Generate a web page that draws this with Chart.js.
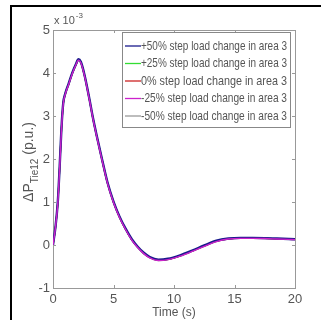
<!DOCTYPE html>
<html><head><meta charset="utf-8">
<script src="https://cdn.jsdelivr.net/npm/chart.js@4/dist/chart.umd.min.js"></script>
<style>
html,body{margin:0;padding:0;background:#fff;overflow:hidden}
#wrap{position:relative;width:321px;height:320px;overflow:hidden}
#frame{position:absolute;left:10px;top:5px;width:400px;height:400px;border-top:2px solid #000;border-left:2px solid #000;box-sizing:border-box}
canvas{position:absolute;left:0;top:0}
</style></head><body>
<div id="wrap"><div id="frame"></div><canvas id="c" width="321" height="320"></canvas></div>
<script>
// Time (s)
const time = [0,0.2,0.4,0.55,0.7,0.85,1.0,1.3,1.6,1.9,2.1,2.3,2.6,3.0,3.3,3.6,4.0,4.5,5.0,5.5,6.0,6.5,7.0,7.5,8.0,8.7,9.5,10.5,11.5,12.5,13.5,14.5,15.5,16.5,17.5,18.5,19.5,20];
// ΔP_Tie12 (x 10^-3 p.u.) for each step load change in area 3
const plus50  = [0,0.41,1.02,1.82,2.72,3.31,3.51,3.76,4.01,4.21,4.32,4.26,3.96,3.41,2.96,2.56,2.06,1.46,1.01,0.66,0.38,0.14,-0.04,-0.18,-0.28,-0.34,-0.32,-0.24,-0.13,-0.01,0.10,0.15,0.165,0.165,0.16,0.15,0.14,0.135];
const plus25  = [0,0.40,1.01,1.81,2.71,3.30,3.50,3.75,4.00,4.20,4.31,4.25,3.95,3.40,2.95,2.55,2.05,1.45,1.00,0.65,0.37,0.13,-0.05,-0.19,-0.29,-0.35,-0.33,-0.25,-0.14,-0.02,0.09,0.145,0.16,0.16,0.155,0.145,0.135,0.13];
const zero    = [0,0.40,1.00,1.80,2.70,3.30,3.50,3.75,4.00,4.20,4.31,4.25,3.95,3.40,2.95,2.55,2.05,1.45,1.00,0.65,0.37,0.13,-0.05,-0.19,-0.29,-0.35,-0.33,-0.25,-0.14,-0.02,0.09,0.145,0.16,0.16,0.155,0.145,0.135,0.13];
const minus25 = [0,0.40,0.99,1.79,2.69,3.29,3.49,3.74,3.99,4.19,4.30,4.24,3.94,3.39,2.94,2.54,2.04,1.44,0.99,0.64,0.36,0.12,-0.06,-0.20,-0.30,-0.36,-0.34,-0.26,-0.15,-0.03,0.08,0.14,0.155,0.155,0.15,0.14,0.13,0.125];
const minus50 = [0,0.39,0.98,1.78,2.68,3.28,3.48,3.73,3.98,4.18,4.29,4.23,3.93,3.38,2.93,2.53,2.03,1.43,0.98,0.63,0.36,0.12,-0.06,-0.20,-0.30,-0.36,-0.34,-0.26,-0.15,-0.03,0.08,0.14,0.155,0.155,0.15,0.14,0.13,0.125];
const seriesLabels = ['+50% step load change in area 3','+25% step load change in area 3','0% step load change in area 3','-25% step load change in area 3','-50% step load change in area 3'];
const seriesColors = ['#1a1a8c','#33dd33','#cc2222','#cc22cc','#999999'];
const seriesValues = [plus50, plus25, zero, minus25, minus50];
const drawOrder = [2,4,3,0,5];
const xTitle = 'Time (s)';
const yTitleMain = 'ΔP';
const yTitleSub = 'Tie12';
const yTitleUnit = ' (p.u.)';
const exponentBase = 'x 10';
const exponentPow = '-3';

const FONT = '"Liberation Sans Narrow", "Liberation Sans", Arial, sans-serif';

const datasets = seriesValues.map((vals, i) => ({
  label: seriesLabels[i],
  data: time.map((t, k) => ({x: t, y: vals[k]})),
  borderColor: seriesColors[i],
  backgroundColor: seriesColors[i],
  borderWidth: i === 0 ? 2.4 : 1.4,
  pointRadius: 0,
  cubicInterpolationMode: 'monotone',
  order: drawOrder[i],
  fill: false
}));

const decor = {
  id: 'decor',
  afterDatasetsDraw(chart) {
    const ctx = chart.ctx, a = chart.chartArea;
    const xs = chart.scales.x, ys = chart.scales.y;
    ctx.save();
    // box
    ctx.strokeStyle = '#999';
    ctx.lineWidth = 1;
    ctx.beginPath();
    ctx.moveTo(Math.round(a.left) + 0.5, Math.round(a.top) + 0.5);
    ctx.lineTo(Math.round(a.right) + 0.5, Math.round(a.top) + 0.5);
    ctx.lineTo(Math.round(a.right) + 0.5, Math.round(a.bottom) + 0.5);
    ctx.stroke();
    // inward ticks
    ctx.beginPath();
    xs.ticks.forEach(t => {
      const px = Math.round(xs.getPixelForValue(t.value)) + 0.5;
      ctx.moveTo(px, a.bottom); ctx.lineTo(px, a.bottom - 3);
      ctx.moveTo(px, a.top); ctx.lineTo(px, a.top + 3);
    });
    ys.ticks.forEach(t => {
      const py = Math.round(ys.getPixelForValue(t.value)) + 0.5;
      ctx.moveTo(a.left, py); ctx.lineTo(a.left + 3, py);
      ctx.moveTo(a.right, py); ctx.lineTo(a.right - 3, py);
    });
    ctx.stroke();

    // legend
    const lx = 122, ly = 32, lw = 168, lh = 95;
    ctx.fillStyle = '#fff';
    ctx.fillRect(lx, ly, lw, lh);
    ctx.strokeStyle = '#888';
    ctx.strokeRect(lx + 0.5, ly + 0.5, lw, lh);
    ctx.font = '13px ' + FONT;
    ctx.textBaseline = 'middle';
    ctx.textAlign = 'left';
    chart.data.datasets.forEach((ds, i) => {
      const y = ly + 14 + i * 17.5;
      ctx.strokeStyle = ds.borderColor;
      ctx.lineWidth = 1.3;
      ctx.beginPath();
      ctx.moveTo(lx + 3, y); ctx.lineTo(lx + 19, y);
      ctx.stroke();
      ctx.fillStyle = '#555';
      ctx.fillText(ds.label, lx + 19, y, lw - 22);
    });

    // exponent
    ctx.fillStyle = '#555';
    ctx.textBaseline = 'alphabetic';
    ctx.font = '11px ' + FONT;
    ctx.fillText(exponentBase, a.left + 1, a.top - 6);
    const bw = ctx.measureText(exponentBase).width;
    ctx.font = '8px ' + FONT;
    ctx.fillText(exponentPow, a.left + 2 + bw, a.top - 12);

    // y title
    ctx.translate(33, 162);
    ctx.rotate(-Math.PI / 2);
    ctx.fillStyle = '#555';
    ctx.font = '14px ' + FONT;
    const w1 = ctx.measureText(yTitleMain).width;
    const w3 = ctx.measureText(yTitleUnit).width;
    ctx.font = '10px ' + FONT;
    const w2 = ctx.measureText(yTitleSub).width;
    let x0 = -(w1 + w2 + w3) / 2;
    ctx.font = '14px ' + FONT;
    ctx.fillText(yTitleMain, x0, 0);
    ctx.font = '10px ' + FONT;
    ctx.fillText(yTitleSub, x0 + w1, 5);
    ctx.font = '14px ' + FONT;
    ctx.fillText(yTitleUnit, x0 + w1 + w2, 0);
    ctx.restore();
  }
};

new Chart(document.getElementById('c'), {
  type: 'line',
  data: { datasets },
  options: {
    responsive: false,
    animation: false,
    layout: { padding: { top: 30, right: 26, left: 0, bottom: 0 } },
    plugins: { legend: { display: false }, tooltip: { enabled: false } },
    scales: {
      x: {
        type: 'linear', min: 0, max: 20,
        ticks: { stepSize: 5, color: '#555', font: { size: 13, family: FONT }, padding: 4, maxRotation: 0 },
        grid: { display: false, drawTicks: false },
        border: { color: '#999', width: 1 },
        title: { display: true, text: xTitle, color: '#555', font: { size: 12, family: FONT }, padding: { top: 0, bottom: 0 } },
        afterFit(s) { s.height = 32; }
      },
      y: {
        min: -1, max: 5,
        ticks: { stepSize: 1, color: '#555', font: { size: 13, family: FONT }, padding: 3 },
        grid: { display: false, drawTicks: false },
        border: { color: '#999', width: 1 },
        afterFit(s) { s.width = 53; }
      }
    }
  },
  plugins: [decor]
});
</script>
</body></html>
